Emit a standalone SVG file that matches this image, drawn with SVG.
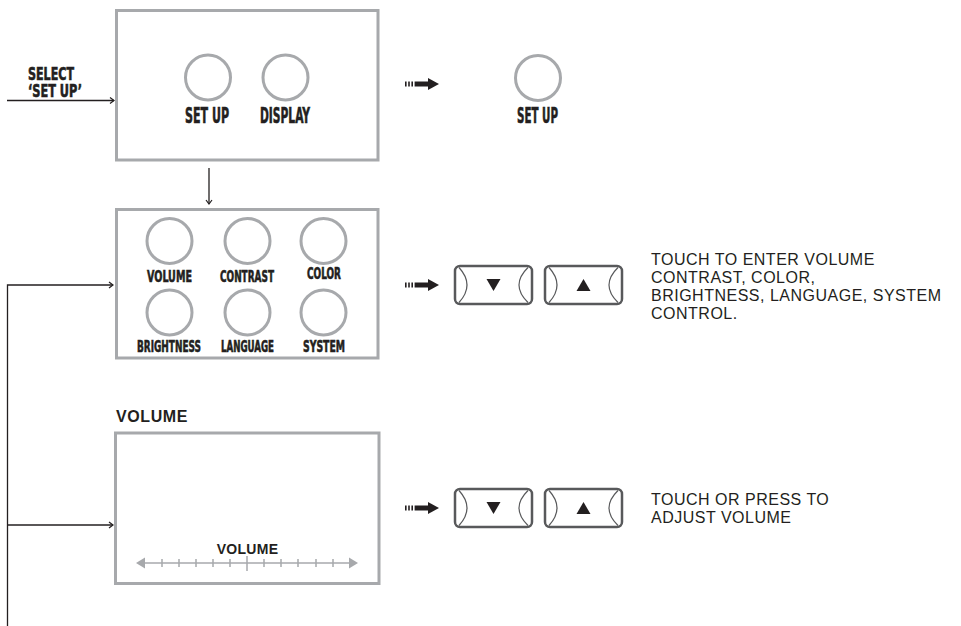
<svg xmlns="http://www.w3.org/2000/svg" xmlns:xlink="http://www.w3.org/1999/xlink" width="961" height="626" viewBox="0 0 961 626">
<style>
.box{fill:#fff;stroke:#a7a9ac;stroke-width:3}
.ring{fill:#fff;stroke:#a7a9ac;stroke-width:3}
.cond{font-family:"Liberation Sans Narrow","DejaVu Sans Condensed","Liberation Sans",sans-serif;font-weight:bold;fill:#231f20;stroke:#231f20;stroke-width:0.6;text-anchor:start}
.note{font-family:"Liberation Sans",Arial,sans-serif;font-size:16px;letter-spacing:0.5px;fill:#231f20}
.hdr{font-family:"Liberation Sans",Arial,sans-serif;font-weight:bold;fill:#231f20}
.conn{fill:none;stroke:#231f20;stroke-width:1.3}
.btn{fill:#fff;stroke:#58595b;stroke-width:2.5}
.arc{fill:none;stroke:#58595b;stroke-width:1.2}
.tri{fill:#231f20}
.slide{stroke:#a7a9ac;stroke-width:1.5;fill:none}
</style>
<defs>
<marker id="ah" markerWidth="8" markerHeight="8" refX="5" refY="4" orient="auto" markerUnits="userSpaceOnUse">
<path d="M1,1 L5,4 L1,7" fill="none" stroke="#231f20" stroke-width="1.2"/>
</marker>
<g id="darr">
<rect x="0" y="-2.5" width="1.6" height="5" fill="#231f20"/>
<rect x="3.2" y="-2.5" width="1.6" height="5" fill="#231f20"/>
<rect x="6.4" y="-2.5" width="1.6" height="5" fill="#231f20"/>
<rect x="9.6" y="-2.5" width="14.4" height="5" fill="#231f20"/>
<path d="M23,-6 L34,0 L23,6 Z" fill="#231f20"/>
</g>
<g id="btnDown">
<rect class="btn" x="0" y="0" width="77" height="38" rx="5"/>
<path class="arc" d="M4,1.5 Q20,19 4,36.5"/>
<path class="arc" d="M73,1.5 Q55,19 73,36.5"/>
<path class="tri" d="M31.5,-6 L45.5,-6 L38.5,6 Z" transform="translate(0,19)"/>
</g>
<g id="btnUp">
<rect class="btn" x="0" y="0" width="77" height="38" rx="5"/>
<path class="arc" d="M4,1.5 Q20,19 4,36.5"/>
<path class="arc" d="M73,1.5 Q55,19 73,36.5"/>
<path class="tri" d="M31.5,6 L45.5,6 L38.5,-6 Z" transform="translate(0,19)"/>
</g>
</defs>
<rect width="961" height="626" fill="#fff"/>

<g id="connectors">
<path class="conn" d="M7,100.5 H114" marker-end="url(#ah)"/>
<path class="conn" d="M209,168 V204" marker-end="url(#ah)"/>
<path class="conn" d="M7.5,626 V285 H113" marker-end="url(#ah)"/>
<path class="conn" d="M7.5,525 H113" marker-end="url(#ah)"/>
<use xlink:href="#darr" x="405" y="84"/>
<use xlink:href="#darr" x="405" y="285"/>
<use xlink:href="#darr" x="405" y="508"/>
</g>

<g id="select-label">
<text class="cond" x="28" y="79.5" font-size="18" textLength="46" lengthAdjust="spacingAndGlyphs">SELECT</text>
<text class="cond" x="28" y="97" font-size="18" textLength="54" lengthAdjust="spacingAndGlyphs">‘SET UP’</text>
</g>

<g id="main-menu">
<rect class="box" x="116.5" y="10.5" width="261.5" height="149.5"/>
<circle class="ring" cx="208" cy="77.5" r="22.5"/>
<circle class="ring" cx="285.5" cy="77.5" r="22.5"/>
<text class="cond" x="185" y="123" font-size="21" textLength="44" lengthAdjust="spacingAndGlyphs">SET UP</text>
<text class="cond" x="260" y="123" font-size="21" textLength="50" lengthAdjust="spacingAndGlyphs">DISPLAY</text>
</g>

<g id="setup-icon">
<circle class="ring" cx="538" cy="78" r="22.5"/>
<text class="cond" x="517" y="123" font-size="21" textLength="41" lengthAdjust="spacingAndGlyphs">SET UP</text>
</g>

<g id="setup-menu">
<rect class="box" x="116.5" y="209.5" width="261.5" height="148.5"/>
<circle class="ring" cx="169.5" cy="241" r="22.5"/>
<circle class="ring" cx="247.5" cy="241" r="22.5"/>
<circle class="ring" cx="323.5" cy="241" r="22.5"/>
<circle class="ring" cx="169.5" cy="312.5" r="22.5"/>
<circle class="ring" cx="247.5" cy="312.5" r="22.5"/>
<circle class="ring" cx="323.5" cy="312.5" r="22.5"/>
<text class="cond" x="147" y="282" font-size="16.5" textLength="45" lengthAdjust="spacingAndGlyphs">VOLUME</text>
<text class="cond" x="220" y="282" font-size="16.5" textLength="54" lengthAdjust="spacingAndGlyphs">CONTRAST</text>
<text class="cond" x="307" y="279" font-size="16.5" textLength="34" lengthAdjust="spacingAndGlyphs">COLOR</text>
<text class="cond" x="137" y="352" font-size="16" textLength="64" lengthAdjust="spacingAndGlyphs">BRIGHTNESS</text>
<text class="cond" x="221" y="352" font-size="16" textLength="53" lengthAdjust="spacingAndGlyphs">LANGUAGE</text>
<text class="cond" x="303" y="352" font-size="16" textLength="42" lengthAdjust="spacingAndGlyphs">SYSTEM</text>
</g>

<g id="buttons-1">
<use xlink:href="#btnDown" x="455" y="266"/>
<use xlink:href="#btnUp" x="545" y="266"/>
</g>
<g id="note-1">
<text class="note" x="651" y="265">TOUCH TO ENTER VOLUME</text>
<text class="note" x="651" y="283">CONTRAST, COLOR,</text>
<text class="note" x="651" y="301">BRIGHTNESS, LANGUAGE, SYSTEM</text>
<text class="note" x="651" y="319">CONTROL.</text>
</g>

<g id="volume-screen">
<text class="hdr" x="116" y="421.5" font-size="16" letter-spacing="0.6">VOLUME</text>
<rect class="box" x="115.5" y="433" width="263.5" height="150.5"/>
<text class="hdr" x="247.5" y="554" font-size="14" text-anchor="middle" letter-spacing="0.3">VOLUME</text>
<line class="slide" x1="142" y1="563" x2="352" y2="563"/>
<path d="M136,563 L145,557.5 L145,568.5 Z" fill="#a7a9ac"/>
<path d="M358,563 L349,557.5 L349,568.5 Z" fill="#a7a9ac"/>
<path class="slide" d="M162,559V567 M179,559V567 M196,559V567 M213,559V567 M230,559V567 M264,559V567 M281,559V567 M298,559V567 M316,559V567 M333,559V567"/>
<path class="slide" d="M247,556V571"/>
</g>

<g id="buttons-2">
<use xlink:href="#btnDown" x="455" y="489"/>
<use xlink:href="#btnUp" x="545" y="489"/>
</g>
<g id="note-2">
<text class="note" x="651" y="505">TOUCH OR PRESS TO</text>
<text class="note" x="651" y="523">ADJUST VOLUME</text>
</g>
</svg>
